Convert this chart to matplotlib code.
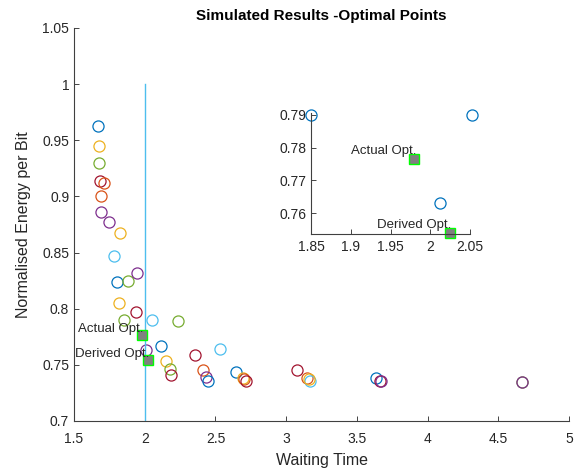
import matplotlib
matplotlib.use("Agg")
import matplotlib.pyplot as plt
from matplotlib.ticker import FormatStrFormatter

plt.rcParams['font.family'] = ['Liberation Sans', 'DejaVu Sans']

# MATLAB default colour order
palette = ['#0072BD', '#D95319', '#EDB120', '#7E2F8E', '#77AC30', '#4DBEEE', '#A2142F']

# simulated points: waiting time, normalised energy, colour index
wait = [1.670, 1.677, 1.677, 1.684, 1.712, 1.691, 1.691, 1.748, 1.825, 1.783,
        1.804, 1.882, 1.946, 1.818, 1.938, 1.850, 2.053, 2.235, 2.012, 2.115,
        2.151, 2.179, 2.186, 2.356, 2.533, 2.412, 2.433, 2.447, 2.646, 2.695,
        2.705, 2.716, 3.077, 3.148, 3.169, 3.162, 3.636, 3.664, 3.671, 4.668,
        4.668]
energy = [0.963, 0.945, 0.930, 0.914, 0.912, 0.900, 0.886, 0.877, 0.867, 0.847,
          0.824, 0.825, 0.832, 0.805, 0.797, 0.790, 0.790, 0.789, 0.763, 0.767,
          0.753, 0.746, 0.741, 0.759, 0.764, 0.745, 0.739, 0.736, 0.744, 0.738,
          0.737, 0.736, 0.745, 0.738, 0.736, 0.737, 0.738, 0.736, 0.736, 0.735,
          0.735]
cidx = [0, 2, 4, 6, 1, 1, 3, 3, 2, 5,
        0, 4, 3, 2, 6, 4, 5, 4, 3, 0,
        2, 4, 6, 6, 5, 1, 3, 0, 0, 2,
        1, 6, 6, 1, 5, 2, 0, 6, 3, 4,
        3]

opt_names = ['Actual Opt.', 'Derived Opt.']
opt_x = [1.98, 2.025]
opt_y = [0.7765, 0.754]
cut_x = 2.0

fig = plt.figure(figsize=(5.87, 4.72), dpi=100)
ax = fig.add_axes([0.1261, 0.1081, 0.8433, 0.8326])

def style(a, xpad=3.5):
    for s in ['top', 'right']:
        a.spines[s].set_visible(False)
    for s in ['left', 'bottom']:
        a.spines[s].set_color('#404040')
        a.spines[s].set_linewidth(0.8)
    a.tick_params(direction='in', length=3.5, width=0.6, colors='#262626', labelsize=10)
    a.tick_params(axis='x', pad=xpad)
    a.xaxis.set_major_formatter(FormatStrFormatter('%g'))
    a.yaxis.set_major_formatter(FormatStrFormatter('%g'))

for x, y, c in zip(wait, energy, cidx):
    ax.plot(x, y, 'o', mfc='none', mec=palette[c], ms=8, mew=0.9)

ax.plot([cut_x, cut_x], [0.7, 1.0], color='#4DBEEE', lw=1)

for name, x, y in zip(opt_names, opt_x, opt_y):
    ax.plot(x, y, 's', mfc='#808080', mec='#00FF00', ms=7, mew=1)
    ax.text(x + 0.01, y + 0.0005, name, ha='right', va='bottom', fontsize=9.5, color='#262626')

ax.set_xlim(1.5, 5)
ax.set_ylim(0.7, 1.05)
ax.set_xticks([1.5, 2, 2.5, 3, 3.5, 4, 4.5, 5])
ax.set_yticks([0.7, 0.75, 0.8, 0.85, 0.9, 0.95, 1, 1.05])
style(ax, xpad=8)
ax.set_xlabel('Waiting Time', fontsize=11.5, color='#262626', labelpad=5)
ax.set_ylabel('Normalised Energy per Bit', fontsize=11.5, color='#262626', labelpad=8)
ax.set_title('Simulated Results -Optimal Points', fontsize=11, fontweight='bold', pad=6)

# zoomed inset around the optimum
ins = fig.add_axes([0.5298, 0.5042, 0.2709, 0.2564])
ins.patch.set_alpha(0)
sel = [i for i in range(len(wait)) if 1.849 <= wait[i] <= 2.06 and 0.75 <= energy[i] <= 0.791]
ins.plot([wait[i] for i in sel], [energy[i] for i in sel], 'o', mfc='none',
         mec=palette[0], ms=8, mew=0.9, clip_on=False)
for name, x, y in zip(opt_names, opt_x, opt_y):
    ins.plot(x, y, 's', mfc='#808080', mec='#00FF00', ms=7, mew=1, clip_on=False)
    ins.text(x + 0.002, y + 0.0005, name, ha='right', va='bottom', fontsize=9.5, color='#262626')
ins.set_xlim(1.85, 2.05)
ins.set_ylim(0.7537, 0.7905)
ins.set_xticks([1.85, 1.9, 1.95, 2, 2.05])
ins.set_yticks([0.76, 0.77, 0.78, 0.79])
style(ins, xpad=4.5)

fig.savefig('out.png', dpi=100)
